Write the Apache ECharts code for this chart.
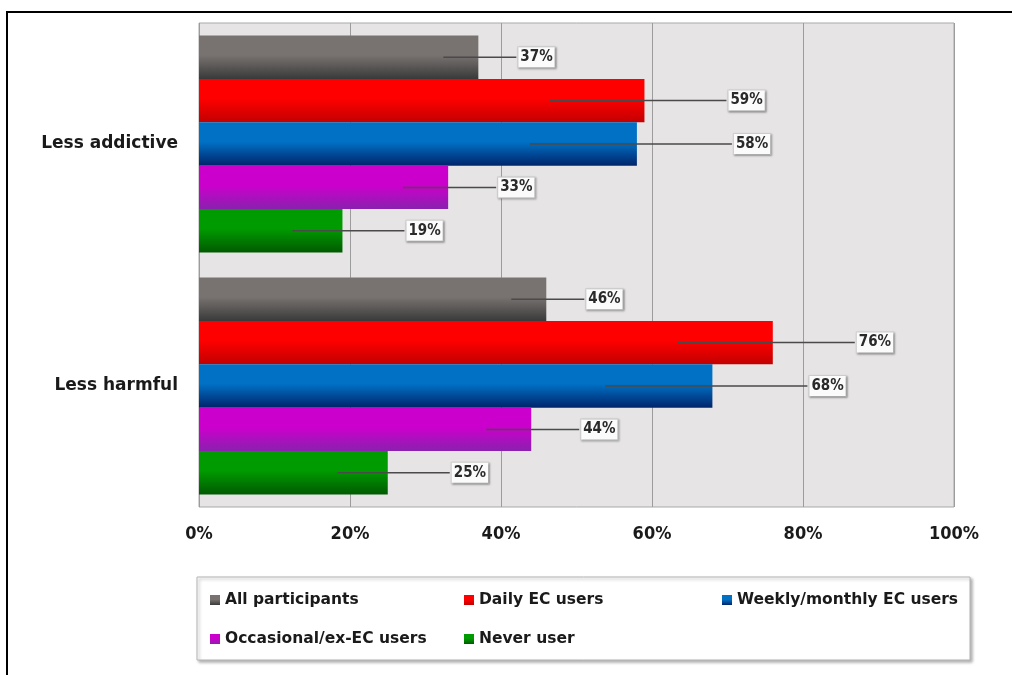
<!DOCTYPE html>
<html>
<head>
<meta charset="utf-8">
<title>Less addictive / Less harmful</title>
<script src="https://cdn.jsdelivr.net/npm/echarts@6/dist/echarts.min.js"></script>
<style>
  html, body { margin: 0; padding: 0; background: #ffffff; }
  #chart { width: 1012px; height: 675px; }
</style>
</head>
<body>
<div id="chart"></div>
<script>
// Categories and series values (percent of respondents)
const categories = ['Less addictive', 'Less harmful'];
const groupNames = ['All participants', 'Daily EC users', 'Weekly/monthly EC users', 'Occasional/ex-EC users', 'Never user'];
const allParticipants = [37, 46];
const dailyUsers = [59, 76];
const weeklyMonthlyUsers = [58, 68];
const occasionalExUsers = [33, 44];
const neverUsers = [19, 25];
const xTicks = [0, 20, 40, 60, 80, 100];

const seriesValues = [allParticipants, dailyUsers, weeklyMonthlyUsers, occasionalExUsers, neverUsers];

// Per-series styling: bar shading and callout geometry (pixels)
const seriesStyle = [
  { top: '#787371', bottom: '#3a3a3a', inset: 35, distance: 40 },
  { top: '#ff0000', bottom: '#c20000', inset: 95, distance: 84 },
  { top: '#0071c5', bottom: '#00246b', inset: 107, distance: 97 },
  { top: '#cc00cc', bottom: '#8a20ae', inset: 45, distance: 50 },
  { top: '#009b00', bottom: '#005a00', inset: 50, distance: 64 }
];

const FONT = "'DejaVu Sans Condensed', 'DejaVu Sans', sans-serif";
const FONT_WIDE = "'DejaVu Sans', sans-serif";
const BAR_GAP_FRACTION = 0.103;

function shade(s) {
  return new echarts.graphic.LinearGradient(0, 0, 0, 1, [
    { offset: 0, color: s.top },
    { offset: 0.45, color: s.top },
    { offset: 1, color: s.bottom }
  ]);
}

const barSeries = groupNames.map((name, i) => ({
  name: name,
  type: 'bar',
  data: seriesValues[i],
  barGap: '0%',
  barCategoryGap: (BAR_GAP_FRACTION * 100) + '%',
  itemStyle: { color: shade(seriesStyle[i]) },
  z: 2,
  label: {
    show: true,
    position: 'right',
    distance: seriesStyle[i].distance,
    formatter: '{c}%',
    color: '#2a2a2a',
    fontFamily: FONT,
    fontSize: 15,
    fontWeight: 'bold',
    backgroundColor: '#fbfbfb',
    borderColor: '#d0d0d0',
    borderWidth: 1,
    padding: [3, 2, 2, 2],
    shadowColor: 'rgba(0,0,0,0.28)',
    shadowBlur: 2,
    shadowOffsetX: 1,
    shadowOffsetY: 1
  }
}));

// Leader lines running from inside each bar to its value box
const leaderSeries = groupNames.map((name, i) => ({
  type: 'custom',
  z: 3,
  silent: true,
  data: seriesValues[i].map((v, k) => [v, k]),
  encode: { x: 0, y: 1 },
  renderItem: function (params, api) {
    const v = api.value(0);
    const c = api.value(1);
    const p = api.coord([v, c]);
    const band = api.size([0, 1])[1];
    const barW = band * (1 - BAR_GAP_FRACTION) / groupNames.length;
    const y = p[1] - band * (1 - BAR_GAP_FRACTION) / 2 + (i + 0.5) * barW;
    return {
      type: 'line',
      shape: { x1: p[0] - seriesStyle[i].inset, y1: y, x2: p[0] + seriesStyle[i].distance - 2, y2: y },
      style: { stroke: '#4a4a4a', lineWidth: 1.5 }
    };
  }
}));

// One legend entry per slot, in two rows of a boxed key
const legendSlots = [
  { left: 210, top: 592 }, { left: 464, top: 592 }, { left: 722, top: 592 },
  { left: 210, top: 631 }, { left: 464, top: 631 }
];
const legends = groupNames.map((name, i) => ({
  data: [name],
  left: legendSlots[i].left,
  top: legendSlots[i].top,
  padding: 0,
  orient: 'horizontal',
  icon: 'rect',
  itemWidth: 10,
  itemHeight: 10,
  itemGap: 5,
  selectedMode: false,
  textStyle: { fontFamily: FONT_WIDE, fontSize: 15.5, fontWeight: 'bold', color: '#1a1a1a' }
}));

const chart = echarts.init(document.getElementById('chart'), null, { renderer: 'canvas' });
chart.setOption({
  animation: false,
  backgroundColor: '#ffffff',
  graphic: [
    {
      type: 'rect',
      shape: { x: 7, y: 12, width: 1020, height: 700 },
      style: { fill: 'none', stroke: '#000000', lineWidth: 2 },
      z: 100
    },
    {
      type: 'rect',
      shape: { x: 197, y: 577, width: 773, height: 83 },
      style: {
        fill: '#ffffff', stroke: '#b4b4b4', lineWidth: 1,
        shadowColor: 'rgba(0,0,0,0.3)', shadowBlur: 3, shadowOffsetX: 2, shadowOffsetY: 2
      },
      z: -1
    }
  ],
  legend: legends,
  grid: {
    left: 199,
    right: 58,
    top: 23,
    bottom: 168,
    show: true,
    backgroundColor: '#e6e4e4',
    borderColor: '#a9a9a9',
    borderWidth: 1
  },
  xAxis: {
    type: 'value',
    min: xTicks[0],
    max: xTicks[xTicks.length - 1],
    interval: xTicks[1] - xTicks[0],
    axisLine: { show: false },
    axisTick: { show: false },
    splitLine: { show: true, lineStyle: { color: '#9c9c9c', width: 1 } },
    axisLabel: {
      formatter: '{value}%',
      margin: 18,
      color: '#1a1a1a',
      fontFamily: FONT,
      fontSize: 18,
      fontWeight: 'bold'
    }
  },
  yAxis: {
    type: 'category',
    data: categories,
    inverse: true,
    axisLine: { show: false },
    axisTick: { show: false },
    splitLine: { show: false },
    axisLabel: {
      margin: 21,
      color: '#1a1a1a',
      fontFamily: FONT_WIDE,
      fontSize: 17,
      fontWeight: 'bold'
    }
  },
  series: barSeries.concat(leaderSeries)
});
</script>
</body>
</html>
